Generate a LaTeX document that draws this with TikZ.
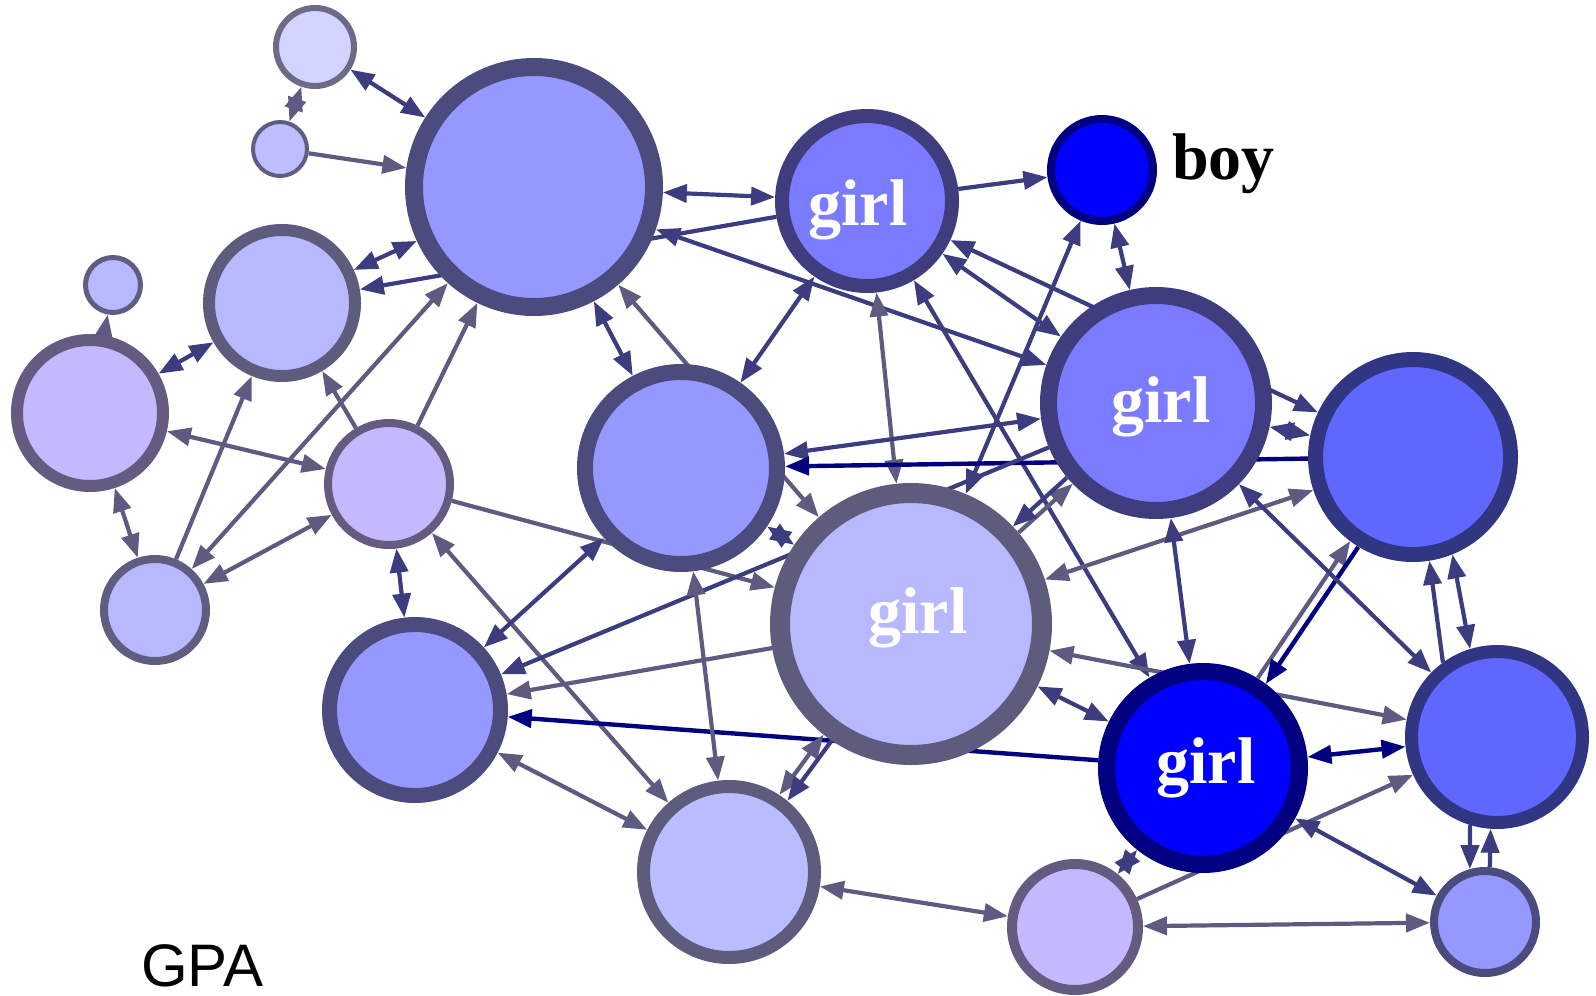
\documentclass[tikz,border=0pt]{standalone}
\usepackage{fontspec}
\setmainfont{Liberation Serif}
\newfontfamily\gpafont{Liberation Sans}
\usetikzlibrary{arrows.meta,backgrounds}

% edge colours
\definecolor{cg}{HTML}{5D5B80}
\definecolor{cs}{HTML}{3C3C7E}
\definecolor{cn}{HTML}{000080}
% node fills
\definecolor{fA}{HTML}{D3D3FF}
\definecolor{fB}{HTML}{BEBEFF}
\definecolor{fC}{HTML}{9599FF}
\definecolor{fD}{HTML}{7B7BFF}
\definecolor{fM}{HTML}{5F67FF}
\definecolor{fE}{HTML}{0000FF}
\definecolor{fN}{HTML}{B8B8FF}
\definecolor{fR}{HTML}{B9BCFF}
\definecolor{fH}{HTML}{C4B8FF}
% node borders
\definecolor{bA}{HTML}{6C6A86}
\definecolor{bB}{HTML}{5F5E80}
\definecolor{bC}{HTML}{4B4B7D}
\definecolor{bD}{HTML}{3F3D7D}
\definecolor{bM}{HTML}{303682}
\definecolor{bE}{HTML}{000080}
\definecolor{bN}{HTML}{5D5C7C}
\definecolor{bH}{HTML}{655B80}

\tikzset{
  vtx/.style n args={4}{circle, inner sep=0pt, draw=#1, fill=#2,
    line width=#3, minimum size=#4},
  eg/.style={line width=4.2pt, draw=cg, fill=cg},
  es/.style={line width=4.2pt, draw=cs, fill=cs},
  en/.style={line width=4.4pt, draw=cn, fill=cn},
  one/.style={-{Triangle[length=24pt,width=18pt]}},
  both/.style={{Triangle[length=24pt,width=18pt]}-{Triangle[length=24pt,width=18pt]}},
  gtext/.style={text=white, font=\bfseries\fontsize{66}{66}\selectfont, inner sep=0pt, anchor=base},
}

\begin{document}
\begin{tikzpicture}[x=1pt,y=-1pt]
\useasboundingbox (0,0) rectangle (1596,996);

% vertices: centre, border colour, fill, border width, diameter
\node[vtx={bA}{fA}{6pt}{78pt}]   (A) at (315,47)   {};
\node[vtx={bB}{fB}{4pt}{54pt}]   (B) at (280,149)  {};
\node[vtx={bC}{fC}{18pt}{240pt}] (C) at (534,187)  {};
\node[vtx={bD}{fD}{14pt}{170pt}] (D) at (867,201)  {};
\node[vtx={bE}{fE}{8pt}{102pt}]  (E) at (1102,170) {};
\node[vtx={bN}{fN}{12pt}{146pt}] (F) at (282,303)  {};
\node[vtx={bB}{fN}{5pt}{55pt}]   (G) at (113,285)  {};
\node[vtx={bH}{fH}{12pt}{146pt}] (H) at (90,413)   {};
\node[vtx={bH}{fH}{8pt}{122pt}]  (I) at (389,484)  {};
\node[vtx={bB}{fN}{8pt}{102pt}]  (J) at (155,610)  {};
\node[vtx={bC}{fC}{16pt}{192pt}] (K) at (681,468)  {};
\node[vtx={bD}{fD}{17pt}{215pt}] (L) at (1156,403) {};
\node[vtx={bM}{fM}{15pt}{195pt}] (M) at (1413,457) {};
\node[vtx={bN}{fN}{20pt}{262pt}] (N) at (911,624)  {};
\node[vtx={bC}{fC}{15pt}{171pt}] (O) at (415,710)  {};
\node[vtx={bE}{fE}{17pt}{193pt}] (P) at (1203,768) {};
\node[vtx={bM}{fM}{13pt}{171pt}] (Q) at (1497,737) {};
\node[vtx={bN}{fR}{13pt}{171pt}] (R) at (729,872)  {};
\node[vtx={bH}{fH}{10pt}{126pt}] (S) at (1075,927) {};
\node[vtx={bC}{fC}{8pt}{102pt}]  (T) at (1485,922) {};

% labels
\node[gtext] (Dlab) at (858,225)  {girl};
\node[gtext] (Llab) at (1161,422) {girl};
\node[gtext] (Nlab) at (918,633)  {girl};
\node[gtext] (Plab) at (1206,783) {girl};
\node[anchor=base west, inner sep=0pt, font=\bfseries\fontsize{66}{66}\selectfont] (boy) at (1172,179) {boy};
\node[anchor=base west, inner sep=0pt, font=\gpafont\fontsize{60}{60}\selectfont] (gpa) at (141,986) {GPA};

\begin{pgfonlayer}{background}
% left cluster
\draw[eg,both] (A) -- (B);
\draw[es,both] (A) -- (C);
\draw[eg,one]  (B) -- (C);
\draw[eg,one]  (H) -- (G);
\draw[es,both] (F) -- (C);
\draw[es,one]  (D) -- (F);
\draw[es,both] (F) -- (H);
\draw[eg,one]  (J) -- (F);
\draw[eg,one]  (I) -- (F);
\draw[eg,both] (J) -- (C);
\draw[eg,one]  (I) -- (C);
\draw[eg,both] (H) -- (I);
\draw[eg,both] (H) -- (J);
\draw[eg,both] (J) -- (I);
\draw[es,both] (I) -- (O);
\draw[eg,both] (I) -- (R);
\draw[eg,one]  (I) -- (N);
% centre
\draw[es,both] (C) -- (D);
\draw[es,both] (C) -- (L);
\draw[es,both] (C) -- (K);
\draw[eg,both] (C) -- (N);
\draw[es,both] (K) -- (D);
\draw[es,one]  (D) -- (E);
\draw[eg,both] (D) -- (N);
\draw[es,both] (E) -- (N);
\draw[es,both] (E) -- (L);
\draw[es,both] (D) -- (M);
\draw[es,both] (D) -- (L);
\draw[es,both] (D) -- (P);
\draw[es,both] (K) -- (L);
\draw[en,one]  (M) -- (K);
\draw[es,both] (K) -- (N);
\draw[es,both] (O) -- (K);
\draw[es,one]  (L) -- (O);
\draw[eg,one]  (N) -- (O);
\draw[en,one]  (P) -- (O);
\draw[eg,both] (K) -- (R);
\draw[eg,both] (O) -- (R);
\draw[eg,both,transform canvas={shift={(-4,-3)}}] (N) -- (R);
\draw[es,one,transform canvas={shift={(4,3)}}]    (N) -- (R);
\draw[eg,one,transform canvas={shift={(3,3)}}]    (N) -- (L);
\draw[es,one,transform canvas={shift={(-3,-3)}}]  (L) -- (N);
\draw[eg,both] (M) -- (N);
\draw[es,both] (L) -- (P);
\draw[eg,both] (N) -- (Q);
\draw[es,both] (N) -- (P);
% lower right
\draw[eg,both] (R) -- (S);
\draw[es,both] (S) -- (P);
\draw[eg,one]  (S) -- (Q);
\draw[eg,both] (S) -- (T);
\draw[en,both] (P) -- (Q);
\draw[es,both] (P) -- (T);
\draw[eg,one,transform canvas={shift={(-4,-3)}}] (P) -- (M);
\draw[en,one,transform canvas={shift={(4,3)}}]   (M) -- (P);
\draw[es,both] (L) -- (Q);
\draw[es,both] (L) -- (M);
\draw[es,one]  (Q.126) -- (M.-81);
\draw[es,both] (M.-68) -- (Q.107);
\draw[es,one]  (Q.-107) -- (T.106);
\draw[es,one]  (T.85) -- (Q.-94);
\end{pgfonlayer}
\end{tikzpicture}
\end{document}
